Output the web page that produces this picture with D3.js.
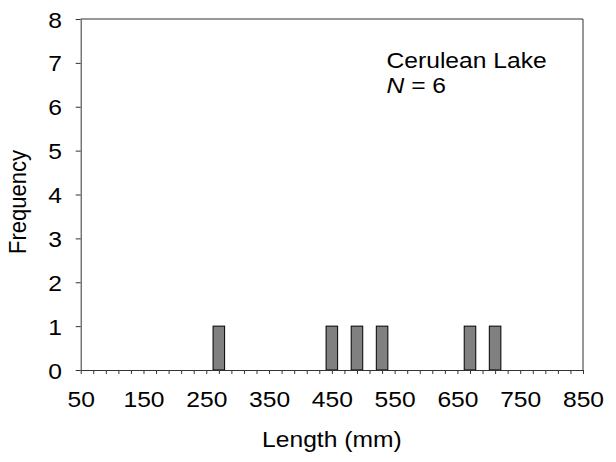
<!DOCTYPE html>
<html>
<head>
<meta charset="utf-8">
<script src="https://cdn.jsdelivr.net/npm/d3@7"></script>
<style>
  html, body { margin: 0; padding: 0; background: #fff; }
  svg text { font-family: "Liberation Sans", Arial, sans-serif; fill: #000; }
</style>
</head>
<body>
<svg id="chart" width="616" height="462"></svg>
<script>
// Length-frequency histogram, 20 mm bins
const binCenters = [270, 450, 490, 530, 670, 710];
const frequencies = [1, 1, 1, 1, 1, 1];
const binWidth = 20;
const xTickValues = d3.range(50, 851, 20);
const xLabelValues = [50, 150, 250, 350, 450, 550, 650, 750, 850];
const yTickValues = [0, 1, 2, 3, 4, 5, 6, 7, 8];
const siteName = "Cerulean Lake";
const sampleSize = 6;

const margin = { left: 80.7, right: 616 - 583, top: 19, bottom: 462 - 370 };
const width = 616, height = 462;
const stretch = 1.12;
const fontSize = 22;

const svg = d3.select("#chart");

const x = d3.scaleLinear().domain([50, 850]).range([margin.left, width - margin.right]);
const y = d3.scaleLinear().domain([0, 8]).range([height - margin.bottom, margin.top]);

const axisColor = "#333";

// Bars
svg.append("g")
  .selectAll("rect")
  .data(binCenters.map((c, i) => ({ c, f: frequencies[i] })))
  .join("rect")
  .attr("x", d => x(d.c - binWidth / 2) + 0.5)
  .attr("width", d => x(d.c + binWidth / 2) - x(d.c - binWidth / 2) - 1)
  .attr("y", d => y(d.f))
  .attr("height", d => y(0) - y(d.f))
  .attr("fill", "#808080")
  .attr("stroke", "#000")
  .attr("stroke-width", 1);

// Frame: top and right edges
svg.append("path")
  .attr("d", `M${x(50)},${y(8)}H${x(850)}V${y(0)}`)
  .attr("fill", "none")
  .attr("stroke", axisColor)
  .attr("stroke-width", 1);

// X axis
const xAxis = svg.append("g")
  .attr("transform", `translate(0,${y(0)})`)
  .call(d3.axisBottom(x).tickValues(xTickValues).tickSize(4).tickSizeOuter(0)
    .tickFormat(d => xLabelValues.includes(d) ? d : ""));
xAxis.select(".domain").attr("stroke", axisColor);
xAxis.selectAll(".tick line").attr("stroke", axisColor);
xAxis.selectAll(".tick text")
  .attr("y", null).attr("dy", null)
  .attr("font-size", fontSize)
  .attr("fill", "#000")
  .attr("text-anchor", "middle")
  .attr("transform", `translate(0,37) scale(${stretch},1)`);

// Y axis
const yAxis = svg.append("g")
  .attr("transform", `translate(${x(50)},0)`)
  .call(d3.axisLeft(y).tickValues(yTickValues).tickSize(5).tickSizeOuter(0).tickFormat(d3.format("d")));
yAxis.select(".domain").attr("stroke", axisColor);
yAxis.selectAll(".tick line").attr("stroke", axisColor);
yAxis.selectAll(".tick text")
  .attr("x", null).attr("dy", null)
  .attr("font-size", fontSize)
  .attr("fill", "#000")
  .attr("text-anchor", "end")
  .attr("transform", `translate(-18.7,8) scale(${stretch},1)`);

// Axis titles
svg.append("text")
  .attr("transform", `translate(${(x(50) + x(850)) / 2},446.5) scale(${stretch},1)`)
  .attr("text-anchor", "middle")
  .attr("font-size", fontSize)
  .text("Length (mm)");

svg.append("text")
  .attr("transform", `translate(26,202) scale(${stretch},1) rotate(-90)`)
  .attr("text-anchor", "middle")
  .attr("font-size", fontSize)
  .text("Frequency");

// Site annotation
svg.append("text")
  .attr("transform", `translate(386.5,67.7) scale(${stretch},1)`)
  .attr("font-size", fontSize)
  .text(siteName);

const nLabel = svg.append("text")
  .attr("transform", `translate(386.5,93.3) scale(${stretch},1)`)
  .attr("font-size", fontSize);
nLabel.append("tspan").attr("font-style", "italic").text("N");
nLabel.append("tspan").text(` = ${sampleSize}`);
</script>
</body>
</html>
